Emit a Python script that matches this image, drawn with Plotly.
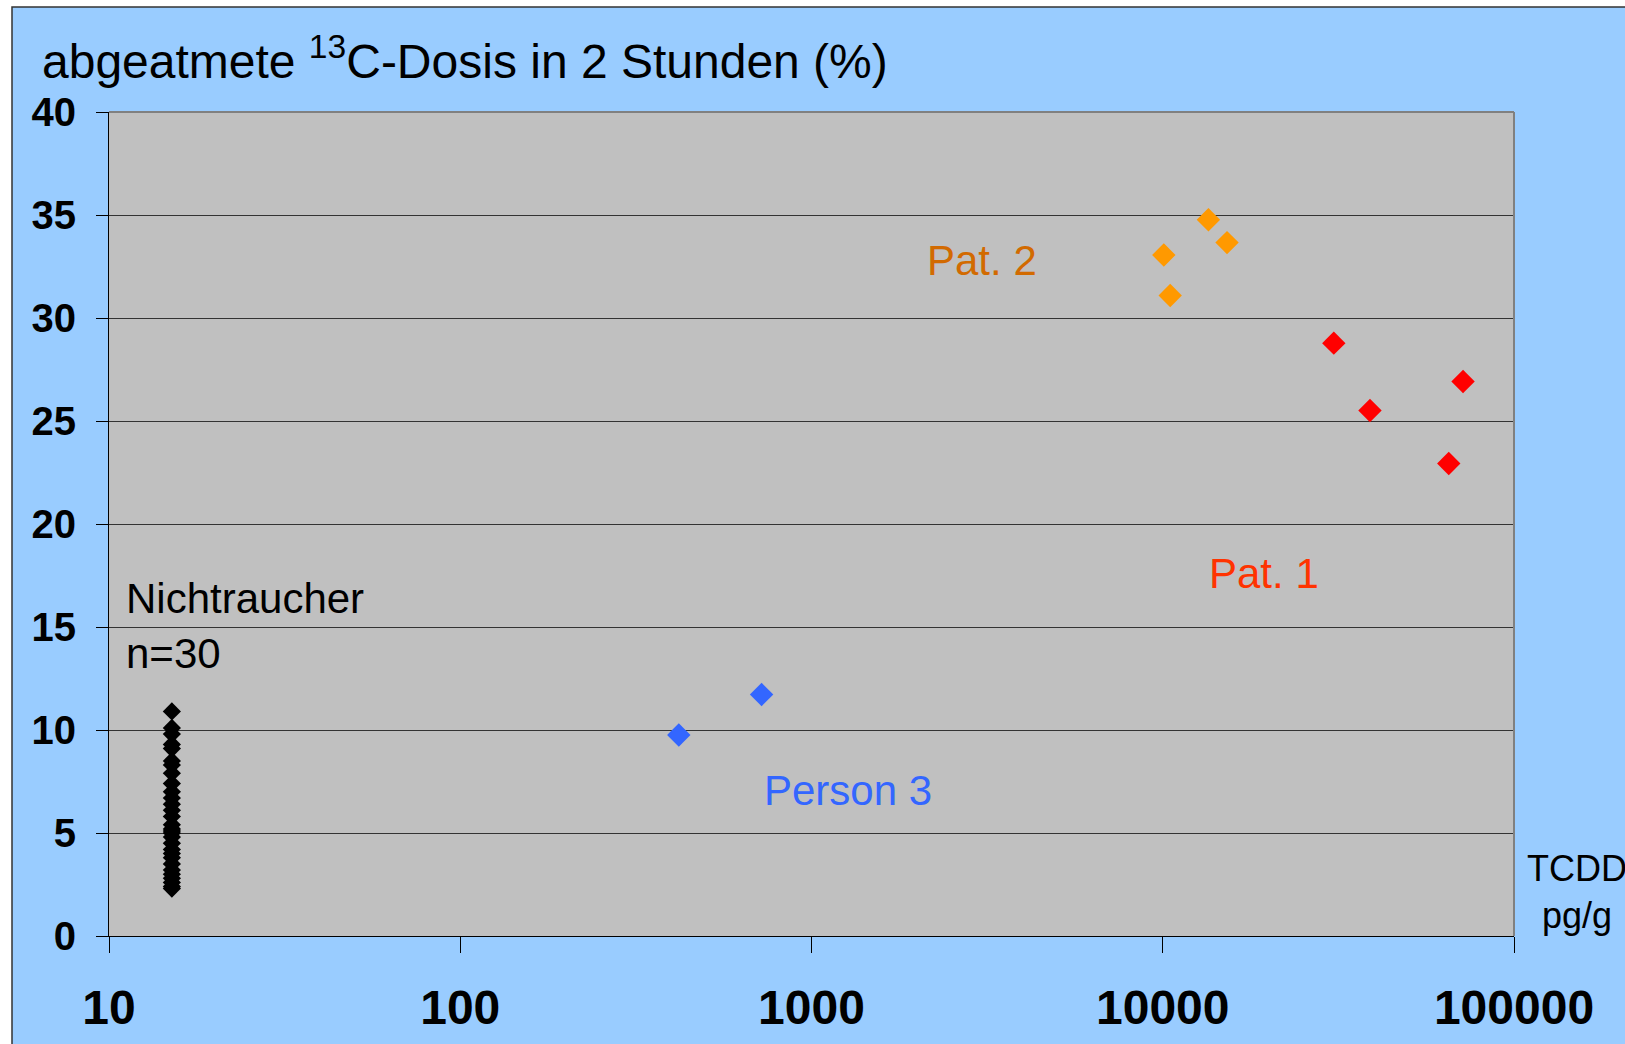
import plotly.graph_objects as go

# ---- data ----
nonsmoker_x = [15.1] * 30
nonsmoker_y = [10.9, 10.1, 9.8, 9.3, 9.1, 8.5, 8.3, 7.9, 7.4, 7.0,
               6.7, 6.4, 6.1, 5.8, 5.4, 5.2, 5.0, 4.8, 4.5, 4.2,
               4.0, 3.8, 3.5, 3.2, 3.0, 2.8, 2.6, 2.4, 2.3, 5.1]
person3_x = [419, 721]
person3_y = [9.76, 11.72]
pat2_x = [10070, 10500, 13490, 15240]
pat2_y = [33.06, 31.09, 34.77, 33.66]
pat1_x = [30690, 38900, 65200, 71600]
pat1_y = [28.78, 25.51, 22.94, 26.92]

x_tickvals = [10, 100, 1000, 10000, 100000]
x_ticktext = ["10", "100", "1000", "10000", "100000"]
y_tickvals = [0, 5, 10, 15, 20, 25, 30, 35, 40]

FONT = "Liberation Sans, Arial, Helvetica, sans-serif"

fig = go.Figure()
fig.add_trace(go.Scatter(x=nonsmoker_x, y=nonsmoker_y, mode="markers",
                         marker=dict(symbol="diamond", size=14, color="#000000",
                                     line=dict(width=0)), showlegend=False))
fig.add_trace(go.Scatter(x=person3_x, y=person3_y, mode="markers",
                         marker=dict(symbol="diamond", size=18, color="#3366FF",
                                     line=dict(width=0)), showlegend=False))
fig.add_trace(go.Scatter(x=pat2_x, y=pat2_y, mode="markers",
                         marker=dict(symbol="diamond", size=18, color="#FF9900",
                                     line=dict(width=0)), showlegend=False))
fig.add_trace(go.Scatter(x=pat1_x, y=pat1_y, mode="markers",
                         marker=dict(symbol="diamond", size=18, color="#FF0000",
                                     line=dict(width=0)), showlegend=False))

ann_font = 42
annotations = [
    dict(x=3.484, y=32.8, xref="x", yref="y", text="Pat. 2", showarrow=False,
         font=dict(family=FONT, size=ann_font, color="#D26A00"),
         xanchor="center", yanchor="middle"),
    dict(x=4.289, y=17.6, xref="x", yref="y", text="Pat. 1", showarrow=False,
         font=dict(family=FONT, size=ann_font, color="#FF3300"),
         xanchor="center", yanchor="middle"),
    dict(x=3.103, y=7.04, xref="x", yref="y", text="Person 3", showarrow=False,
         font=dict(family=FONT, size=ann_font, color="#3366FF"),
         xanchor="center", yanchor="middle"),
    dict(x=1.044, y=15.04, xref="x", yref="y", text="Nichtraucher<br>n=30",
         showarrow=False, align="left",
         font=dict(family=FONT, size=ann_font, color="#000000"),
         xanchor="left", yanchor="middle"),
    dict(x=-0.049, y=1.066, xref="paper", yref="paper",
         text="abgeatmete <sup>13</sup>C-Dosis in 2 Stunden (%)", showarrow=False,
         font=dict(family=FONT, size=48, color="#000000"),
         xanchor="left", yanchor="middle"),
    dict(x=1.0448, y=0.0528, xref="paper", yref="paper", text="TCDD<br>pg/g",
         showarrow=False, align="center",
         font=dict(family=FONT, size=36, color="#000000"),
         xanchor="center", yanchor="middle"),
]

shapes = [
    # white strips outside the blue frame
    dict(type="rect", xref="paper", yref="paper", x0=-0.2, x1=1.2,
         y0=(936 - 7) / 824, y1=1.3, fillcolor="white", line=dict(width=0), layer="below"),
    dict(type="rect", xref="paper", yref="paper", x0=-0.2, x1=(12 - 109) / 1405,
         y0=-0.3, y1=1.3, fillcolor="white", line=dict(width=0), layer="below"),
    # frame border
    dict(type="rect", xref="paper", yref="paper", x0=(12 - 109) / 1405, x1=1.2,
         y0=-0.3, y1=(936 - 7) / 824, line=dict(color="#333333", width=1.5),
         fillcolor="rgba(0,0,0,0)", layer="below"),
    # gray top / right plot border
    dict(type="line", xref="paper", yref="paper", x0=0, x1=1, y0=1, y1=1,
         line=dict(color="#808080", width=2), layer="above"),
    dict(type="line", xref="paper", yref="paper", x0=1, x1=1, y0=0, y1=1,
         line=dict(color="#808080", width=2), layer="above"),
]

fig.update_layout(
    width=1625, height=1044,
    margin=dict(l=109, r=111, t=112, b=108, autoexpand=False),
    paper_bgcolor="#99CCFF",
    plot_bgcolor="#C0C0C0",
    font=dict(family=FONT, color="#000000"),
    annotations=annotations,
    shapes=shapes,
    showlegend=False,
)
fig.update_xaxes(type="log", range=[1, 5], tickvals=x_tickvals, ticktext=x_ticktext,
                 showgrid=False, showline=True, linecolor="#000000", linewidth=1,
                 ticks="outside", ticklen=16, tickcolor="#000000", tickwidth=1,
                 tickfont=dict(family=FONT, size=48, color="#000000", weight="bold"),
                 ticklabelstandoff=13, zeroline=False, automargin=False)
fig.update_yaxes(range=[0, 40], tickvals=y_tickvals,
                 showgrid=True, gridcolor="#333333", gridwidth=1,
                 showline=True, linecolor="#000000", linewidth=1,
                 ticks="outside", ticklen=12, tickcolor="#000000", tickwidth=1,
                 tickfont=dict(family=FONT, size=40, color="#000000", weight="bold"),
                 ticklabelstandoff=12, zeroline=False, automargin=False)

fig.write_html("out.html", config={"displayModeBar": False},
               post_script="document.body.style.margin='0px';document.body.style.overflow='hidden';")
